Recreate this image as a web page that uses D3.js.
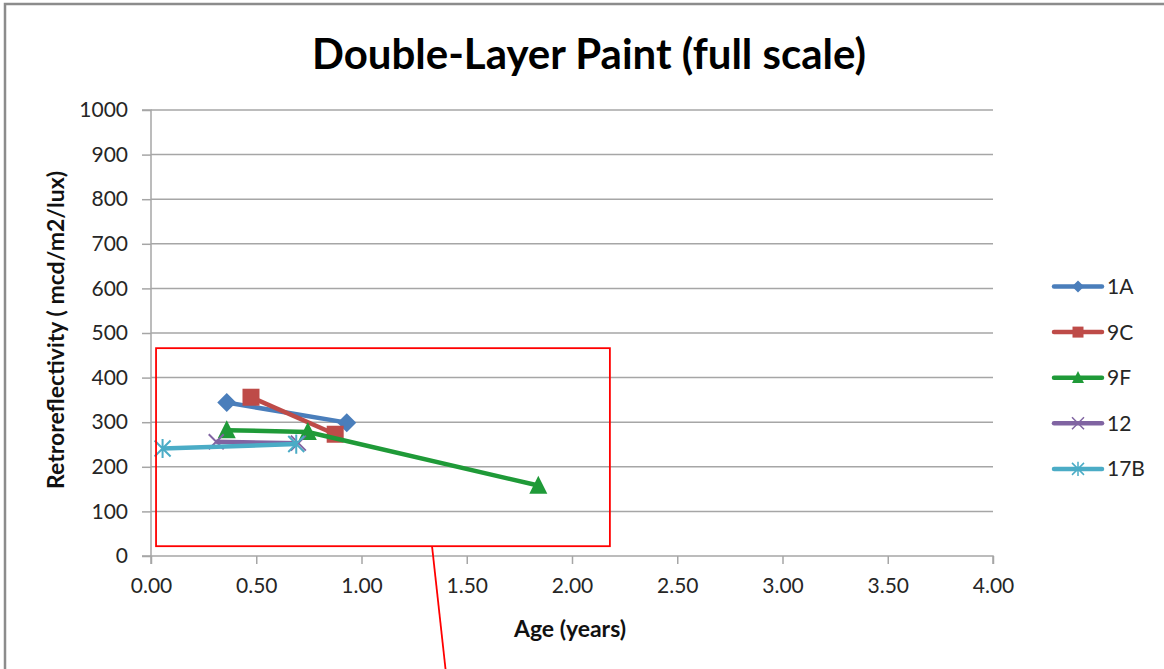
<!DOCTYPE html>
<html>
<head>
<meta charset="utf-8">
<script src="https://cdn.jsdelivr.net/npm/d3@7"></script>
<style>
  body { margin: 0; background: #fff; }
  svg { display: block; font-family: Lato, "Open Sans", sans-serif; }
</style>
</head>
<body>
<div id="chart"></div>
<script>
// series data (age in years, retroreflectivity)
const seriesNames = ["1A", "9C", "9F", "12", "17B"];
const ages = [
  [0.36, 0.93],
  [0.475, 0.875],
  [0.36, 0.745, 1.84],
  [0.31, 0.70],
  [0.055, 0.69]
];
const retro = [
  [344, 299],
  [356, 273],
  [282, 278, 158],
  [256, 253],
  [241, 251]
];
const xTicks = [0, 0.5, 1, 1.5, 2, 2.5, 3, 3.5, 4];
const yTicks = [0, 100, 200, 300, 400, 500, 600, 700, 800, 900, 1000];
// callout box drawn over the chart, in data units
const boxX = [0.024, 2.18];
const boxY = [22, 466];
const pointerX = [1.335, 1.41];
const pointerY = [22, -300];

const config = {
  width: 1164,
  height: 669,
  plot: { left: 151, right: 993, top: 110, bottom: 556 },
  colors: ["#4A7EBB", "#BE4B48", "#1F9A38", "#8064A2", "#4BACC6"],
  shapes: ["diamond", "square", "triangle", "x", "star"]
};

const svg = d3.select("#chart")
  .append("svg")
  .attr("width", config.width)
  .attr("height", config.height);

// chart frame (runs past the right and bottom edges)
svg.append("rect")
  .attr("x", 5).attr("y", 4)
  .attr("width", 1200).attr("height", 700)
  .style("fill", "#fff")
  .style("stroke", "#8c8c8c")
  .style("stroke-width", 2.5);

const xScale = d3.scaleLinear()
  .domain([0, 4])
  .range([config.plot.left, config.plot.right]);

const yScale = d3.scaleLinear()
  .domain([0, 1000])
  .range([config.plot.bottom, config.plot.top]);

// horizontal gridlines
svg.append("g")
  .selectAll("line")
  .data(yTicks.filter(d => d > 0))
  .join("line")
  .attr("x1", config.plot.left).attr("x2", config.plot.right)
  .attr("y1", d => yScale(d)).attr("y2", d => yScale(d))
  .style("stroke", "#a6a6a6")
  .style("stroke-width", 1.5);

// y axis
const yAxis = svg.append("g")
  .attr("transform", `translate(${config.plot.left},0)`)
  .call(d3.axisLeft(yScale).tickValues(yTicks).tickSize(9).tickPadding(14)
    .tickFormat(d3.format("d")));

// x axis
const xAxis = svg.append("g")
  .attr("transform", `translate(0,${config.plot.bottom})`)
  .call(d3.axisBottom(xScale).tickValues(xTicks).tickSize(8).tickPadding(14)
    .tickFormat(d3.format(".2f")));

[xAxis, yAxis].forEach(ax => {
  ax.select(".domain").style("stroke", "#a6a6a6").style("stroke-width", 1.5);
  ax.selectAll(".tick line").style("stroke", "#a6a6a6").style("stroke-width", 1.5);
  ax.selectAll(".tick text")
    .style("font-family", "Lato, sans-serif")
    .style("font-size", "21px")
    .style("fill", "#262626");
});
yAxis.select(".domain").attr("d", `M-9,${config.plot.bottom}H0V${config.plot.top}H-9`);
xAxis.select(".domain").attr("d", `M${config.plot.left},8V0H${config.plot.right}V8`);

// title
svg.append("text")
  .attr("x", 589).attr("y", 69)
  .attr("text-anchor", "middle")
  .style("font-size", "42px")
  .style("font-weight", "bold")
  .style("fill", "#000")
  .text("Double-Layer Paint (full scale)");

// axis titles
svg.append("text")
  .attr("x", 570).attr("y", 637)
  .attr("text-anchor", "middle")
  .style("font-size", "23px")
  .style("font-weight", "bold")
  .style("fill", "#111")
  .text("Age (years)");

svg.append("text")
  .attr("text-anchor", "middle")
  .attr("transform", "translate(64,330)rotate(-90)")
  .style("font-size", "23px")
  .style("font-weight", "bold")
  .style("fill", "#111")
  .text("Retroreflectivity ( mcd/m2/lux)");

// marker shapes in the spreadsheet style
const shapeTypes = {
  diamond: { draw(c, s) { const r = Math.sqrt(s) / 2; c.moveTo(0, -r); c.lineTo(r, 0); c.lineTo(0, r); c.lineTo(-r, 0); c.closePath(); } },
  square: { draw(c, s) { const r = Math.sqrt(s) / 2; c.rect(-r, -r, 2 * r, 2 * r); } },
  triangle: { draw(c, s) { const r = Math.sqrt(s) / 2; c.moveTo(0, -r * 1.1); c.lineTo(r, r * 0.9); c.lineTo(-r, r * 0.9); c.closePath(); } },
  x: { draw(c, s) { const r = Math.sqrt(s) / 2; c.moveTo(-r, -r); c.lineTo(r, r); c.moveTo(-r, r); c.lineTo(r, -r); } },
  star: { draw(c, s) { const r = Math.sqrt(s) / 2; c.moveTo(-r, -r); c.lineTo(r, r); c.moveTo(-r, r); c.lineTo(r, -r); c.moveTo(0, -r * 1.2); c.lineTo(0, r * 1.2); } }
};
const isStroke = shape => shape === "x" || shape === "star";

const line = d3.line()
  .x(d => xScale(d[0]))
  .y(d => yScale(d[1]));

const markerSizes = { diamond: 19, square: 17, triangle: 18, x: 15, star: 16 };

seriesNames.forEach((name, i) => {
  const pts = ages[i].map((a, j) => [a, retro[i][j]]);
  const shape = config.shapes[i];
  const g = svg.append("g");

  g.append("path")
    .datum(pts)
    .attr("d", line)
    .style("fill", "none")
    .style("stroke", config.colors[i])
    .style("stroke-width", 4.5)
    .style("stroke-linejoin", "round");

  const sz = markerSizes[shape];
  g.selectAll(".pt")
    .data(pts)
    .join("path")
    .attr("class", "pt")
    .attr("transform", d => `translate(${xScale(d[0])},${yScale(d[1])})`)
    .attr("d", d3.symbol().type(shapeTypes[shape]).size(sz * sz))
    .style("fill", isStroke(shape) ? "none" : config.colors[i])
    .style("stroke", config.colors[i])
    .style("stroke-width", isStroke(shape) ? 2 : 0);
});

// legend
const legend = svg.append("g");
seriesNames.forEach((name, i) => {
  const y = 286.5 + i * 45.6;
  const shape = config.shapes[i];
  legend.append("line")
    .attr("x1", 1054).attr("x2", 1102)
    .attr("y1", y).attr("y2", y)
    .style("stroke", config.colors[i])
    .style("stroke-width", 4.5)
    .style("stroke-linecap", "round");
  const sz = shape === "square" ? 11 : 12;
  legend.append("path")
    .attr("transform", `translate(1078,${y})`)
    .attr("d", d3.symbol().type(shapeTypes[shape]).size(sz * sz))
    .style("fill", isStroke(shape) ? "none" : config.colors[i])
    .style("stroke", config.colors[i])
    .style("stroke-width", isStroke(shape) ? 1.5 : 0);
  legend.append("text")
    .attr("x", 1107).attr("y", y + 7.5)
    .style("font-size", "21px")
    .style("fill", "#262626")
    .text(name);
});

// red callout box and pointer
svg.append("rect")
  .attr("x", xScale(boxX[0]))
  .attr("y", yScale(boxY[1]))
  .attr("width", xScale(boxX[1]) - xScale(boxX[0]))
  .attr("height", yScale(boxY[0]) - yScale(boxY[1]))
  .style("fill", "none")
  .style("stroke", "#ff0000")
  .style("stroke-width", 1.8);

svg.append("line")
  .attr("x1", xScale(pointerX[0])).attr("y1", yScale(pointerY[0]))
  .attr("x2", xScale(pointerX[1])).attr("y2", yScale(pointerY[1]))
  .style("stroke", "#ff0000")
  .style("stroke-width", 1.8);
</script>
</body>
</html>
